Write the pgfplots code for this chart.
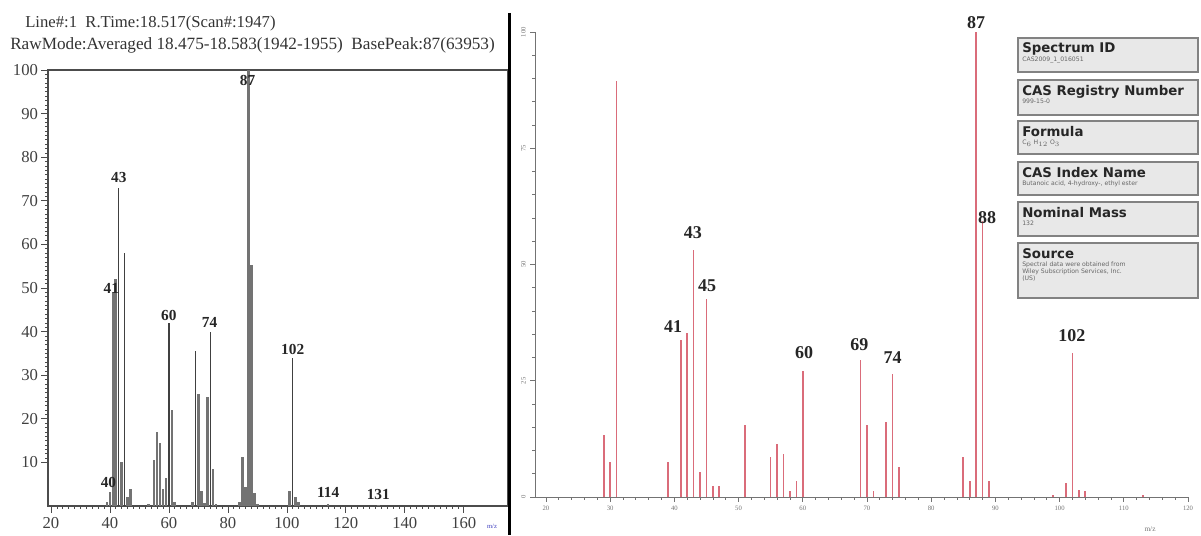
\documentclass[border=0pt]{standalone}
\usepackage{fontspec}
\setmainfont{Liberation Serif}
\newfontfamily\boxfont{DejaVu Sans}
\usepackage{pgfplots}
\pgfplotsset{compat=1.18}
\definecolor{redline}{RGB}{218,108,122}
\definecolor{boxfill}{RGB}{232,232,232}
\definecolor{boxdraw}{RGB}{130,130,130}
\definecolor{barcol}{RGB}{115,115,115}

\pgfplotstableread{
mz  int
39  1
40  3.3
41  49
42  52
44  10
46  2
47  4
53  0.5
55  10.6
56  17
57  14.5
58  4
59  6.5
61  22
62  1
68  1
70  25.8
71  3.5
72  0.6
73  25
75  8.6
76  0.5
84  1
85  11.3
86  4.4
87  100
88  55.3
89  3
90  0.5
101 3.5
103 2
104 1
114 0.5
131 0.3
}\leftdata

\pgfplotstableread{
mz  int
43  73
45  58
60  42
69  35.6
74  40
102 34
}\leftthin

\pgfplotstableread{
mz  int
29  13.3
30  7.5
31  89.4
39  7.5
41  33.8
42  35.3
43  53.2
44  5.3
45  42.6
46  2.3
47  2.3
51  15.5
55  8.6
56  11.5
57  9.3
58  1.2
59  3.4
60  27.2
69  29.4
70  15.5
71  1.2
73  16.2
74  26.5
75  6.4
85  8.6
86  3.4
87  100
88  59.4
89  3.4
99  0.5
101 3.1
102 30.9
103 1.5
104 1.2
113 0.5
}\rightdata

\begin{document}
\begin{tikzpicture}
\useasboundingbox (0,0) rectangle (900.75pt,-401.25pt);

% ---------------- left spectrum ----------------
\begin{axis}[
  at={(36pt,-379.5pt)}, anchor=south west,
  scale only axis, width=345pt, height=327pt,
  xmin=19, xmax=175, ymin=0, ymax=100,
  axis line style={black!70, line width=0.9pt},
  xtick={20,40,...,160}, minor x tick num=9,
  ytick={10,20,...,100}, minor y tick num=9,
  xtick pos=bottom, ytick pos=left,
  tick align=outside,
  major tick length=5pt, minor tick length=2.2pt,
  every tick/.style={black!70, line width=0.5pt},
  ticklabel style={font=\fontsize{12.5}{12.5}\selectfont, text=black!75},
  yticklabel style={xshift=1pt},
  /pgf/number format/assume math mode=true,
  clip=false,
]
\addplot[ycomb, barcol, line width=2pt] table[x=mz,y=int] {\leftdata};
\addplot[ycomb, black!75, line width=1pt] table[x=mz,y=int] {\leftthin};
\begin{scope}[every node/.style={font=\fontsize{11.5}{11.5}\selectfont\bfseries, text=black!85, inner sep=0pt}]
\node at (axis cs:43,75.3) {43};
\node at (axis cs:40.5,50) {41};
\node at (axis cs:39.5,5.3) {40};
\node at (axis cs:60,43.8) {60};
\node at (axis cs:73.8,42) {74};
\node at (axis cs:86.7,97.6) {87};
\node at (axis cs:102,36) {102};
\node at (axis cs:114,3.2) {114};
\node at (axis cs:131,2.7) {131};
\end{scope}
\end{axis}

% ---------------- right spectrum ----------------
\begin{axis}[
  at={(401.25pt,-372.75pt)}, anchor=south west,
  scale only axis, width=489.75pt, height=348.75pt,
  xmin=18.3, xmax=120, ymin=0, ymax=100,
  axis x line=bottom, axis y line=left,
  axis line style={-, black!55, line width=0.6pt},
  xtick={20,30,...,120}, minor x tick num=4,
  ytick={0,25,50,75,100}, minor y tick num=4,
  tick align=outside,
  major tick length=3.5pt, minor tick length=2pt,
  every tick/.style={black!55, line width=0.5pt},
  ticklabel style={font=\fontsize{5}{5}\selectfont, text=black!55},
  yticklabel style={rotate=90, anchor=south},
  /pgf/number format/assume math mode=true,
  clip=false,
]
\addplot[ycomb, redline, line width=1.2pt] table[x=mz,y=int] {\rightdata};
\begin{scope}[every node/.style={font=\fontsize{13.5}{13.5}\selectfont\bfseries, text=black!85, inner sep=0pt}]
\node at (axis cs:42.9,56.8) {43};
\node at (axis cs:45.1,45.4) {45};
\node at (axis cs:39.8,36.6) {41};
\node at (axis cs:60.2,31) {60};
\node at (axis cs:68.8,32.7) {69};
\node at (axis cs:74,29.9) {74};
\node at (axis cs:87,102) {87};
\node at (axis cs:88.7,60) {88};
\node at (axis cs:101.9,34.8) {102};
\end{scope}
\end{axis}

% ---------------- annotations in pixel coordinates ----------------
\begin{scope}[x=0.75pt,y=-0.75pt]
\draw[black, line width=1.9pt] (509.5,13) -- (509.5,535);
\node[anchor=base west, inner sep=0pt, font=\fontsize{12.5}{12.5}\selectfont, text=black!80] at (25,28) {Line\#:1\ \ R.Time:18.517(Scan\#:1947)};
\node[anchor=base west, inner sep=0pt, font=\fontsize{12.9}{12.9}\selectfont, text=black!80] at (10,50) {RawMode:Averaged 18.475-18.583(1942-1955)\ \ BasePeak:87(63953)};
\node[font=\fontsize{5}{5}\selectfont, text=blue!50!gray] at (492,526) {m/z};
\node[font=\fontsize{5.5}{5.5}\selectfont, text=black!55] at (1150,529) {m/z};

\tikzset{infobox/.style={draw=boxdraw, fill=boxfill, line width=1pt}}
\newcommand{\infobox}[4]{%
  \draw[infobox] (1018,#1) rectangle (1198,#2);
  \node[anchor=base west, inner sep=0pt, font=\boxfont\bfseries\fontsize{10}{10}\selectfont, text=black!85] at (1022,#1+15) {#3};
  \node[anchor=north west, inner sep=0pt, align=left, font=\boxfont\fontsize{4.6}{5.2}\selectfont, text=black!60] at (1022,#1+18.5) {#4};
}
\infobox{38}{72}{Spectrum ID}{CAS2009\_1\_016051}
\infobox{80}{115}{CAS Registry Number}{999-15-0}
\infobox{121}{154}{Formula}{C$_6$ H$_{12}$ O$_3$}
\infobox{162}{195}{CAS Index Name}{Butanoic acid, 4-hydroxy-, ethyl ester}
\infobox{202}{236}{Nominal Mass}{132}
\infobox{243}{298}{Source}{Spectral data were obtained from\\Wiley Subscription Services, Inc.\\(US)}
\end{scope}
\end{tikzpicture}
\end{document}
